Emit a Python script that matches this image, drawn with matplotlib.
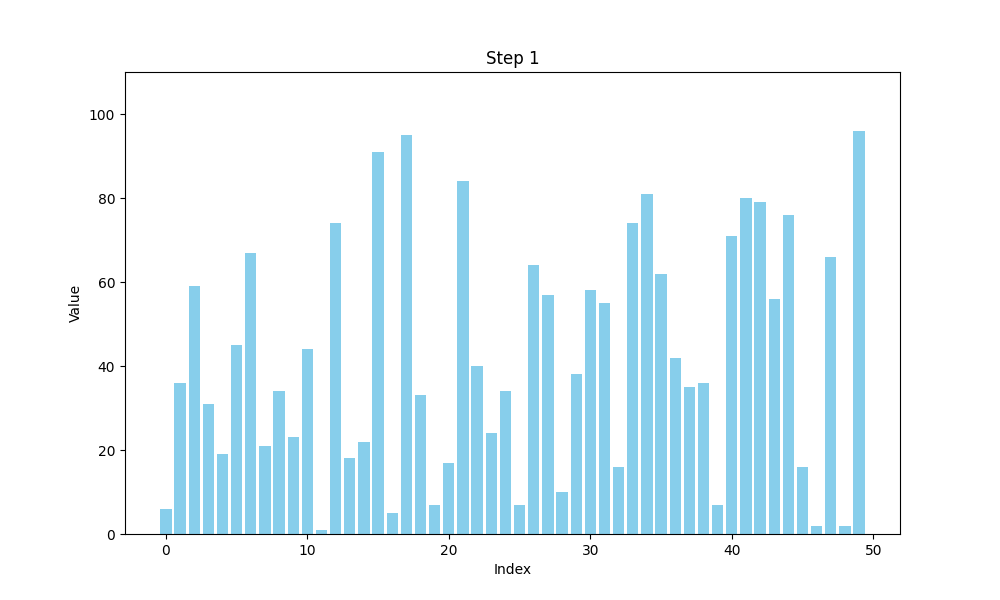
import matplotlib
matplotlib.use("Agg")
import matplotlib.pyplot as plt
import numpy as np

indices = np.arange(50)
values = [6, 36, 59, 31, 19, 45, 67, 21, 34, 23,
          44, 1, 74, 18, 22, 91, 5, 95, 33, 7,
          17, 84, 40, 24, 34, 7, 64, 57, 10, 38,
          58, 55, 16, 74, 81, 62, 42, 35, 36, 7,
          71, 80, 79, 56, 76, 16, 2, 66, 2, 96]

fig, ax = plt.subplots(figsize=(10, 6), dpi=100)
ax.bar(indices, values, color='skyblue')
ax.set_ylim(0, 110)
ax.set_title("Step 1")
ax.set_xlabel("Index")
ax.set_ylabel("Value")
fig.savefig("out.png")
